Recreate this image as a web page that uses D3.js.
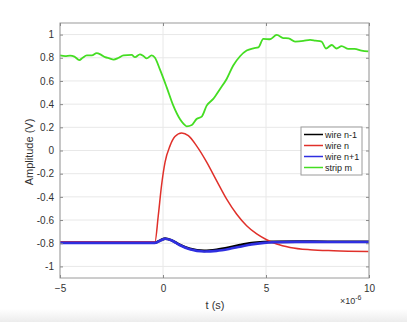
<!DOCTYPE html>
<html><head><meta charset="utf-8">
<script src="https://cdn.jsdelivr.net/npm/d3@7"></script>
<style>
html,body{margin:0;padding:0;background:#fff;}
svg{display:block;font-family:"Liberation Sans",Arial,Helvetica,sans-serif;}
</style></head>
<body>
<svg id="chart" width="407" height="322"></svg>
<script>
// time in microseconds (axis shows ×10^-6)
const xTicks = [-5, 0, 5, 10];
const yTicks = [-1, -0.8, -0.6, -0.4, -0.2, 0, 0.2, 0.4, 0.6, 0.8, 1];
const yTickLabels = ["-1","-0.8","-0.6","-0.4","-0.2","0","0.2","0.4","0.6","0.8","1"];
const seriesNames = ["wire n-1", "wire n", "wire n+1", "strip m"];
const seriesColors = ["#000000", "#e0302a", "#2f2fe0", "#44dd22"];

const stripT = [-5,-4.75,-4.51,-4.3,-4.06,-3.9,-3.7,-3.45,-3.22,-3.0,-2.81,-2.6,-2.4,-2.15,-1.92,-1.52,-1.36,-1.12,-0.95,-0.79,-0.55,-0.39,-0.15,0.18,0.5,0.82,1.0,1.15,1.4,1.63,1.88,2.12,2.44,2.77,3.09,3.41,3.74,4.06,4.39,4.63,4.87,5.19,5.52,5.84,6.1,6.41,6.81,7.14,7.4,7.7,7.91,8.19,8.43,8.67,9.0,9.3,9.64,9.97];
const stripV = [0.82,0.815,0.818,0.81,0.78,0.80,0.82,0.82,0.84,0.825,0.805,0.795,0.784,0.80,0.82,0.825,0.805,0.83,0.815,0.795,0.82,0.80,0.70,0.545,0.387,0.272,0.23,0.209,0.22,0.272,0.292,0.387,0.445,0.531,0.617,0.733,0.813,0.862,0.882,0.89,0.963,0.96,0.997,0.97,0.968,0.94,0.945,0.955,0.948,0.94,0.88,0.91,0.88,0.9,0.876,0.876,0.862,0.855];

const wireNT = [-5,-1,-0.39,-0.23,-0.07,0.10,0.34,0.58,0.91,1.23,1.63,2.12,2.6,3.09,3.57,4.06,4.55,5.03,5.52,6.17,7.14,8.28,9.97];
const wireNV = [-0.787,-0.787,-0.787,-0.563,-0.30,-0.10,0.04,0.12,0.151,0.128,0.04,-0.10,-0.26,-0.42,-0.548,-0.649,-0.72,-0.77,-0.807,-0.836,-0.856,-0.865,-0.871];

const wireN1T = [-5,-1,-0.39,-0.1,0.1,0.4,0.8,1.3,2.0,2.6,3.2,3.74,4.3,4.9,5.36,6.5,8,10];
const wireN1V = [-0.797,-0.797,-0.797,-0.775,-0.762,-0.775,-0.815,-0.852,-0.871,-0.866,-0.85,-0.83,-0.81,-0.797,-0.792,-0.788,-0.789,-0.789];

const wireNm1T = [-5,-1,-0.39,-0.1,0.1,0.4,0.8,1.3,2.0,2.6,3.2,3.74,4.3,4.9,5.36,6.5,8,10];
const wireNm1V = [-0.795,-0.795,-0.795,-0.773,-0.760,-0.773,-0.812,-0.848,-0.866,-0.857,-0.838,-0.816,-0.798,-0.79,-0.788,-0.786,-0.787,-0.787];

const svg = d3.select("#chart");
svg.append("defs").append("linearGradient").attr("id","bg").attr("x1",0).attr("y1",0).attr("x2",0).attr("y2",1)
  .selectAll("stop").data([["0%","#ffffff"],["100%","#ececec"]]).join("stop")
  .attr("offset",d=>d[0]).attr("stop-color",d=>d[1]);
svg.append("rect").attr("x",0).attr("y",309).attr("width",407).attr("height",13).attr("fill","url(#bg)");

const L = 60, R = 369, T = 23, B = 278;
const x = d3.scaleLinear().domain([-5, 10]).range([L, R]);
const y = d3.scaleLinear().domain([-1.1, 1.1]).range([B, T]);

const g = svg.append("g");
// grid
g.selectAll(".gx").data(xTicks).join("line").attr("x1",d=>x(d)).attr("x2",d=>x(d)).attr("y1",T).attr("y2",B)
  .attr("stroke","#e8e8e8").attr("stroke-width",1);
g.selectAll(".gy").data(yTicks).join("line").attr("y1",d=>y(d)).attr("y2",d=>y(d)).attr("x1",L).attr("x2",R)
  .attr("stroke","#e8e8e8").attr("stroke-width",1);

// lines
const line = d3.line().x(d=>x(d[0])).y(d=>y(d[1])).curve(d3.curveMonotoneX);
const zip = (a,b)=>a.map((v,i)=>[v,b[i]]);
const series = [
  {d: zip(wireNm1T, wireNm1V), c: seriesColors[0], w: 2.6},
  {d: zip(wireNT, wireNV), c: seriesColors[1], w: 1.5},
  {d: zip(wireN1T, wireN1V), c: seriesColors[2], w: 2.6},
  {d: zip(stripT, stripV), c: seriesColors[3], w: 1.8}
];
g.selectAll(".s").data(series).join("path").attr("d",d=>line(d.d)).attr("fill","none")
  .attr("stroke",d=>d.c).attr("stroke-width",d=>d.w).attr("stroke-linejoin","round");

// box
g.append("rect").attr("x",L).attr("y",T).attr("width",R-L).attr("height",B-T).attr("fill","none").attr("stroke","#9a9a9a").attr("stroke-width",1);

// axes
const xAxis = d3.axisBottom(x).tickValues(xTicks).tickSize(-3).tickPadding(7).tickFormat(d3.format("d"));
const yAxis = d3.axisLeft(y).tickValues(yTicks).tickSize(-3).tickPadding(6).tickFormat((d,i)=>yTickLabels[i]);
const ax = svg.append("g").attr("transform",`translate(0,${B})`).call(xAxis);
const ay = svg.append("g").attr("transform",`translate(${L},0)`).call(yAxis);
const ayr = svg.append("g").attr("transform",`translate(${R},0)`).call(d3.axisRight(y).tickValues(yTicks).tickSize(-3).tickFormat(""));
const axt = svg.append("g").attr("transform",`translate(0,${T})`).call(d3.axisTop(x).tickValues(xTicks).tickSize(-3).tickFormat(""));
[ax, ay, ayr, axt].forEach(a=>{
  a.select(".domain").remove();
  a.selectAll(".tick line").attr("stroke","#8a8a8a");
  a.selectAll("text").attr("fill","#333").style("font-size","10px").style("font-family","'Liberation Sans',Arial,sans-serif");
});

// labels
svg.append("text").attr("x",215).attr("y",309).attr("text-anchor","middle").attr("fill","#333").style("font-size","11px").text("t (s)");
svg.append("text").attr("transform","translate(33,152) rotate(-90)").attr("text-anchor","middle").attr("fill","#333").style("font-size","11px").text("Amplitude (V)");
const ex = svg.append("text").attr("x",340).attr("y",304).attr("fill","#333").style("font-size","9px");
ex.append("tspan").text("×10");
ex.append("tspan").attr("dy",-4).style("font-size","7px").text("-6");

// legend
const lg = svg.append("g").attr("transform","translate(301,127)");
lg.append("rect").attr("width",61).attr("height",48).attr("fill","#fff").attr("stroke","#9a9a9a").attr("stroke-width",1);
const items = lg.selectAll(".li").data(seriesNames).join("g").attr("transform",(d,i)=>`translate(0,${7.5+i*11})`);
items.append("line").attr("x1",3).attr("x2",22).attr("y1",0).attr("y2",0).attr("stroke",(d,i)=>seriesColors[i]).attr("stroke-width",1.5);
items.append("text").attr("x",24).attr("y",3.3).attr("fill","#222").style("font-size","9px").text(d=>d);
</script>
</body></html>
